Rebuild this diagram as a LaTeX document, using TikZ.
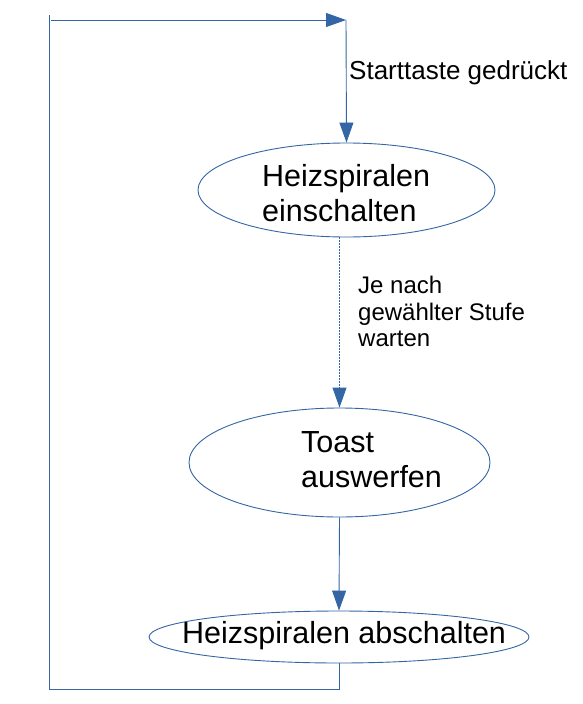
\documentclass[tikz,border=0pt]{standalone}
\usepackage{fontspec}
\setmainfont{Liberation Sans}
\usepackage{tikz}
\usetikzlibrary{arrows.meta}
\usetikzlibrary{shapes.geometric}
\definecolor{flowblue}{HTML}{3465A4}

\begin{document}
\begin{tikzpicture}[x=1pt,y=-1pt,
  state/.style={ellipse, draw=flowblue, line width=0.9pt, inner sep=0pt},
  wire/.style={draw=flowblue, line width=0.9pt},
  flow/.style={wire, -{Triangle[length=20pt,width=14pt]}},
  bigtext/.style={inner sep=0pt, align=left, font=\fontsize{30.5}{35}\selectfont},
  smalltext/.style={inner sep=0pt, align=left, font=\fontsize{24}{26.5}\selectfont}]
\useasboundingbox (0,0) rectangle (583,704);
\coordinate (a) at (49,15);
\coordinate (b) at (51,20);
\coordinate (c) at (346,20);
\coordinate (d) at (49,689);
% draws states
\node[state, minimum width=297pt, minimum height=94pt] (heaton) at (346.5,190) {};
\node[state, minimum width=301pt, minimum height=109pt] (toast) at (339.5,462.5) {};
\node[state, minimum width=380pt, minimum height=52pt] (heatoff) at (339,637) {};
% labels states
\node[bigtext, anchor=west] (heatontext) at (262,193.3) {Heizspiralen\\einschalten};
\node[bigtext, anchor=west] (toasttext) at (301,459.6) {Toast\\auswerfen};
\node[bigtext, anchor=base west] (heatofftext) at (182,643) {Heizspiralen abschalten};
% labels transitions
\node[smalltext, font=\fontsize{26}{28}\selectfont, anchor=base west] (startlabel) at (349,79) {Starttaste gedrückt};
\node[smalltext, anchor=west] (waitlabel) at (358,311.7) {Je nach\\gewählter Stufe\\warten};
% draws transitions
\draw[wire] (heatoff.south) |- (d) -- (a);
\draw[flow] (b) -- (c);
\draw[flow] (c) -- (heaton.north);
\draw[flow, dash pattern=on 1.5pt off 1.5pt] (heaton.south -| toast.north) -- (toast.north);
\draw[flow] (toast.south) -- (heatoff.north);
\end{tikzpicture}
\end{document}
